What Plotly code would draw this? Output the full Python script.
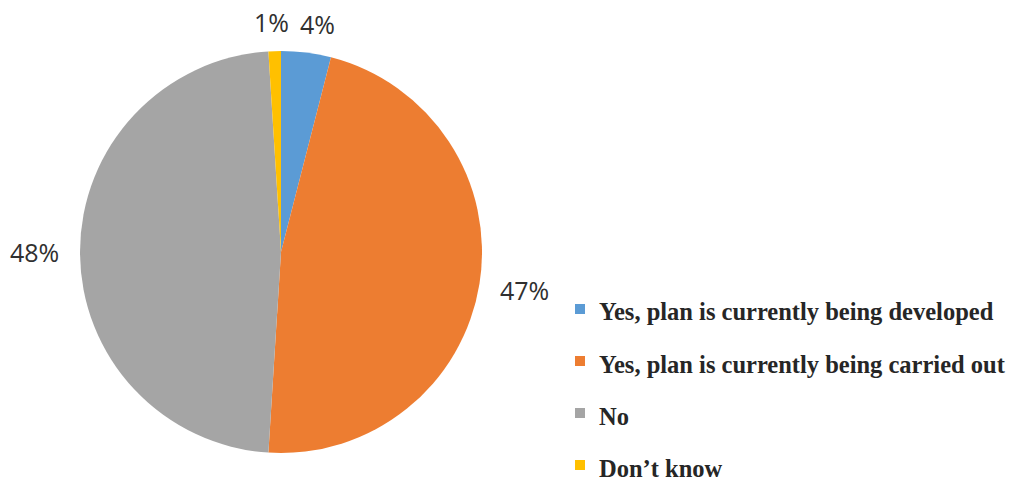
import math
import plotly.graph_objects as go

# Survey answers and their shares (%)
categories = [
    "Yes, plan is currently being developed",
    "Yes, plan is currently being carried out",
    "No",
    "Don\u2019t know",
]
shares = [4, 47, 48, 1]
colors = ["#5B9BD5", "#ED7D31", "#A5A5A5", "#FFC000"]

W, H = 1011, 482

# Pie placement in pixels (centre and radius), turned into a paper-domain
cx, cy, R = 281, 252, 201
domain = dict(x=[(cx - R) / W, (cx + R) / W], y=[(H - cy - R) / H, (H - cy + R) / H])

fig = go.Figure()
fig.add_trace(
    go.Pie(
        labels=categories,
        values=shares,
        sort=False,
        direction="clockwise",
        rotation=0,
        marker=dict(colors=colors, line=dict(width=0)),
        textinfo="none",
        domain=domain,
        showlegend=False,
        hoverinfo="label+percent",
    )
)

# Percentage labels set a little way outside the rim, on each slice's mid-angle
annotations = []
total = sum(shares)
start = 0.0
gap = 19


def clamp(t):
    return max(-1.0, min(1.0, t))


for v in shares:
    mid = (start + v / 2) / total * 2 * math.pi
    start += v
    ux, uy = math.sin(mid), -math.cos(mid)  # screen direction (y down)
    ax, ay = cx + (R + gap) * ux, cy + (R + gap) * uy
    txt = f"{v}%"
    hw, hh = 17.5 * len(txt) / 2, 10
    px = ax + hw * clamp(4 * ux)
    py = ay + hh * clamp(2 * uy)
    annotations.append(dict(
        xref="paper", yref="paper", x=px / W, y=(H - py) / H,
        xanchor="center", yanchor="middle", showarrow=False,
        text=txt, font=dict(family="Open Sans", size=25, color="#303030"),
    ))

# Hand-laid legend: coloured squares with serif labels, widely spaced rows
shapes = []
row_top = 312
row_gap = 52
for i, (name, col) in enumerate(zip(categories, colors)):
    yc = row_top + i * row_gap
    shapes.append(dict(
        type="rect", xref="paper", yref="paper",
        x0=575 / W, x1=585 / W,
        y0=(H - (yc + 2)) / H, y1=(H - (yc - 8)) / H,
        fillcolor=col, line=dict(width=0),
    ))
    annotations.append(dict(
        xref="paper", yref="paper",
        x=597 / W, y=(H - yc) / H,
        xanchor="left", yanchor="middle",
        text="<b>" + name + "</b>", showarrow=False,
        font=dict(family="Liberation Serif", size=24.5, color="#262626"),
    ))

fig.update_layout(
    width=W, height=H,
    margin=dict(l=0, r=0, t=0, b=0),
    paper_bgcolor="white",
    plot_bgcolor="white",
    shapes=shapes,
    annotations=annotations,
)

fig.write_html("out.html")
